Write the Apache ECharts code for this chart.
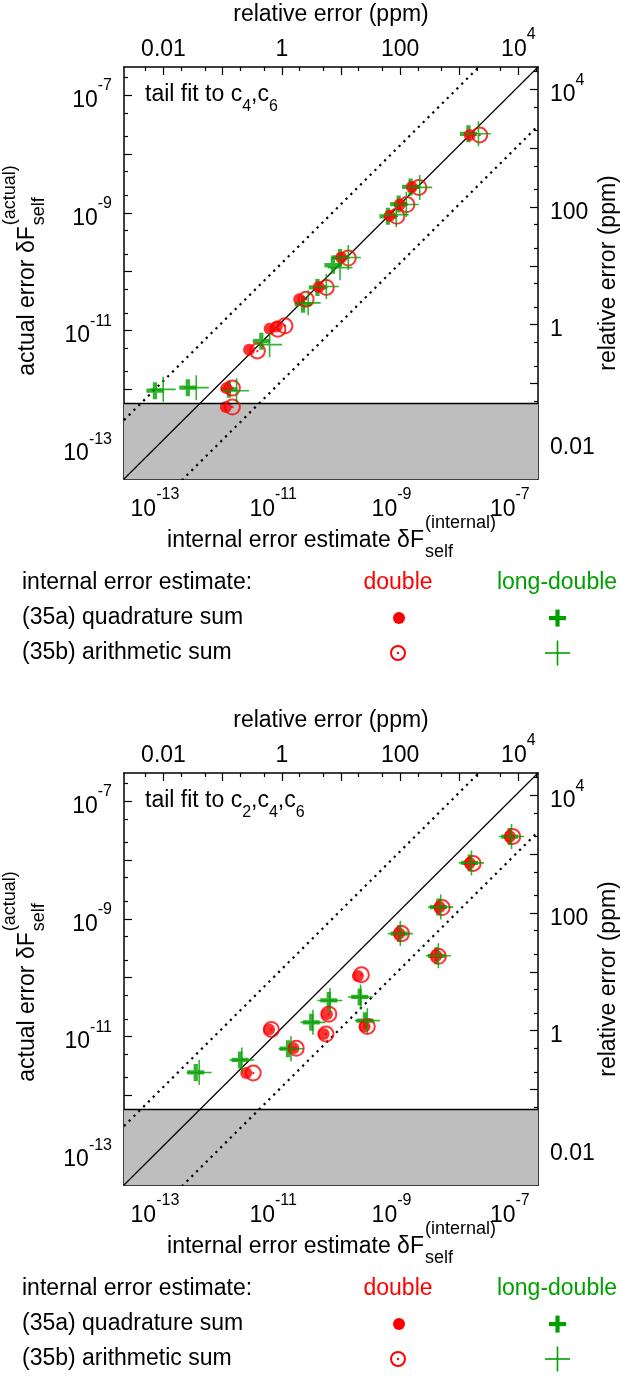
<!DOCTYPE html>
<html>
<head>
<meta charset="utf-8">
<script src="https://cdn.jsdelivr.net/npm/echarts@6/dist/echarts.min.js"></script>
<style>
  html, body { margin: 0; padding: 0; background: #fff; }
  #chart { width: 621px; height: 1376px; }
</style>
</head>
<body>
<div id="chart"></div>
<script>
// [internal error estimate, actual error] pairs
const c46_doubleQuad = [
  [2.1e-8, 2.1e-8], [2.2e-9, 2.75e-9], [1.38e-9, 1.38e-9], [9.3e-10, 8.9e-10],
  [1.41e-10, 1.74e-10], [5.9e-11, 5.5e-11], [2.75e-11, 3.4e-11], [8.7e-12, 1.07e-11],
  [1.15e-11, 1.17e-11], [3.9e-12, 4.7e-12], [1.62e-12, 1.05e-12], [1.58e-12, 5.0e-13]
];
const c46_doubleArith = [
  [3.1e-8, 2.1e-8], [2.9e-9, 2.7e-9], [1.82e-9, 1.38e-9], [1.23e-9, 8.7e-10],
  [1.86e-10, 1.7e-10], [7.9e-11, 5.4e-11], [3.6e-11, 3.4e-11], [1.2e-11, 1.05e-11],
  [1.58e-11, 1.2e-11], [5.4e-12, 4.5e-12], [2.04e-12, 1.05e-12], [2.04e-12, 5.0e-13]
];
const c46_longQuad = [
  [2.0e-8, 2.2e-8], [2.1e-9, 2.75e-9], [1.32e-9, 1.41e-9], [8.7e-10, 8.7e-10],
  [1.35e-10, 1.74e-10], [1.02e-10, 1.29e-10], [5.6e-11, 5.4e-11], [3.2e-11, 2.8e-11],
  [6.3e-12, 6.6e-12], [1.78e-12, 1.0e-12], [1.0e-13, 9.5e-13], [3.6e-13, 1.07e-12]
];
const c46_longArith = [
  [2.95e-8, 2.2e-8], [3.0e-9, 2.7e-9], [1.78e-9, 1.38e-9], [1.2e-9, 9.3e-10],
  [1.86e-10, 1.74e-10], [1.35e-10, 1.17e-10], [7.9e-11, 5.6e-11], [3.9e-11, 2.95e-11],
  [8.7e-12, 5.75e-12], [2.4e-12, 9.5e-13], [1.38e-13, 1.0e-12], [5.0e-13, 1.07e-12]
];

const c246_doubleQuad = [
  [1.0e-7, 2.5e-8], [2.1e-8, 8.9e-9], [6.5e-9, 1.58e-9], [1.35e-9, 5.6e-10],
  [5.75e-9, 2.35e-10], [2.7e-10, 1.07e-10], [8.1e-11, 2.4e-11], [7.1e-11, 1.1e-11],
  [3.5e-10, 1.48e-11], [2.2e-11, 6.3e-12], [8.5e-12, 1.32e-11], [3.5e-12, 2.4e-12]
];
const c246_doubleArith = [
  [1.12e-7, 2.5e-8], [2.4e-8, 8.7e-9], [7.2e-9, 1.55e-9], [1.48e-9, 5.6e-10],
  [6.2e-9, 2.3e-10], [3.1e-10, 1.12e-10], [8.7e-11, 2.4e-11], [7.8e-11, 1.1e-11],
  [3.9e-10, 1.48e-11], [2.45e-11, 6.3e-12], [9.3e-12, 1.32e-11], [4.6e-12, 2.4e-12]
];
const c246_longQuad = [
  [1.0e-7, 2.5e-8], [2.1e-8, 8.9e-9], [6.2e-9, 1.58e-9], [1.35e-9, 5.6e-10],
  [5.75e-9, 2.35e-10], [8.7e-11, 4.1e-11], [2.9e-10, 4.7e-11], [3.55e-10, 1.86e-11],
  [4.4e-11, 1.74e-11], [1.78e-11, 6.2e-12], [2.75e-12, 4.0e-12], [4.9e-13, 2.45e-12]
];
const c246_longArith = [
  [1.07e-7, 2.5e-8], [2.25e-8, 8.9e-9], [6.8e-9, 1.58e-9], [1.41e-9, 5.6e-10],
  [6.2e-9, 2.35e-10], [9.1e-11, 4.1e-11], [3.0e-10, 4.7e-11], [3.9e-10, 1.86e-11],
  [4.7e-11, 1.74e-11], [2.0e-11, 6.2e-12], [2.95e-12, 4.0e-12], [5.6e-13, 2.45e-12]
];

const axisRange = [3e-14, 3e-7];     // same on both axes
const floorError = 5.7e-13;          // top of the grey band
const guideRatios = [1, 10, 0.1];    // actual = ratio * internal
const ppmShiftX = 10.855;            // log10(ppm) - log10(error)
const ppmShiftY = 10.9;
const errorLabels = [-13, -11, -9, -7];
const ppmLabels = [-2, 0, 2, 4];

const RED = '#ff0000', GREEN = '#00a000', GRAY = '#bebebe';
const FONT = 'Liberation Sans';
const PANEL_DY = 706;

const LOG_MIN = Math.log10(axisRange[0]);
const LOG_MAX = Math.log10(axisRange[1]);
const toLog = pts => pts.map(p => [Math.log10(p[0]), Math.log10(p[1])]);

function majors(lo, hi) {
  const out = [];
  for (let n = Math.ceil(lo); n <= hi; n++) out.push(n);
  return out;
}
function minors(lo, hi) {
  const out = [];
  for (let n = Math.floor(lo); n <= hi; n++) {
    [2, 5].forEach(m => { const v = n + Math.log10(m); if (v > lo && v < hi) out.push(v); });
  }
  return out;
}

const tickRich = {
  b: { fontSize: 23, lineHeight: 34, verticalAlign: 'bottom', fontFamily: FONT, color: '#000' },
  s: { fontSize: 16, lineHeight: 15, verticalAlign: 'top', fontFamily: FONT, color: '#000' }
};
const powLabel = v => '{b|10}{s|' + Math.round(v) + '}';
const ppmLabel = v => {
  const n = Math.round(v);
  if (n >= 4) return powLabel(n);
  return '{b|' + (n < 0 ? Math.pow(10, n).toFixed(-n) : String(Math.pow(10, n))) + '}';
};

const frameLine = { show: true, onZero: false, lineStyle: { color: '#000', width: 1.5 } };

function axisPair(gi, position, lo, hi, labelVals, formatter, margin) {
  const major = {
    gridIndex: gi, type: 'value', position: position, min: lo, max: hi,
    axisLine: frameLine,
    axisTick: { show: true, inside: true, length: 8, customValues: majors(lo, hi), lineStyle: { color: '#000', width: 1.2 } },
    axisLabel: { show: true, customValues: labelVals, formatter: formatter, rich: tickRich, margin: margin },
    splitLine: { show: false }
  };
  const minor = {
    gridIndex: gi, type: 'value', position: position, min: lo, max: hi,
    axisLine: { show: false, onZero: false },
    axisTick: { show: true, inside: true, length: 4, customValues: minors(lo, hi), lineStyle: { color: '#000', width: 1.2 } },
    axisLabel: { show: false },
    splitLine: { show: false }
  };
  return [major, minor];
}

const panels = [
  { title: '{a|tail fit to c}{s|4}{a|,c}{s|6}',
    dq: c46_doubleQuad, da: c46_doubleArith, lq: c46_longQuad, la: c46_longArith },
  { title: '{a|tail fit to c}{s|2}{a|,c}{s|4}{a|,c}{s|6}',
    dq: c246_doubleQuad, da: c246_doubleArith, lq: c246_longQuad, la: c246_longArith }
];

const thickPlus = 'path://M7.5,0H12.5V7.5H20V12.5H12.5V20H7.5V12.5H0V7.5H7.5Z';
const thinPlus = 'path://M11.7,0H13.3V11.7H25V13.3H13.3V25H11.7V13.3H0V11.7H11.7Z';

const measure = document.createElement('canvas').getContext('2d');
function textWidth(str, size) {
  measure.font = size + 'px ' + FONT;
  return measure.measureText(str).width;
}

function txt(str, x, y, align, color, size, extra) {
  return Object.assign({
    type: 'text', x: x, y: y, silent: true,
    style: {
      text: str, fontFamily: FONT, fontSize: size || 23, fill: color || '#000',
      align: align, verticalAlign: 'middle', textAlign: align, textVerticalAlign: 'middle'
    }
  }, extra || {});
}

// main text + stacked superscript/subscript (like dF with self / (internal))
function stackedTitle(main, sup, sub, cx, cy, rotation) {
  const wMain = textWidth(main, 23);
  const wTail = Math.max(textWidth(sup, 18), textWidth(sub, 18));
  const x0 = -(wMain + wTail) / 2;
  return {
    type: 'group', x: cx, y: cy, rotation: rotation || 0, silent: true,
    children: [
      txt(main, x0, 0, 'left', '#000', 23),
      txt(sup, x0 + wMain + 1, -18, 'left', '#000', 18),
      txt(sub, x0 + wMain + 1, 11, 'left', '#000', 18)
    ]
  };
}

const grids = [], xAxes = [], yAxes = [], series = [], graphics = [];

panels.forEach((p, i) => {
  const dy = i * PANEL_DY;
  const gTop = 67 + dy;
  grids.push({ left: 124, top: gTop, width: 414, height: 412, outerBoundsMode: 'none', containLabel: false });

  xAxes.push(...axisPair(i, 'bottom', LOG_MIN, LOG_MAX, errorLabels, powLabel, 8));
  xAxes.push(...axisPair(i, 'top', LOG_MIN + ppmShiftX, LOG_MAX + ppmShiftX, ppmLabels, ppmLabel, 6));
  yAxes.push(...axisPair(i, 'left', LOG_MIN, LOG_MAX, errorLabels, powLabel, 12));
  yAxes.push(...axisPair(i, 'right', LOG_MIN + ppmShiftY, LOG_MAX + ppmShiftY, ppmLabels, ppmLabel, 12));

  const ax = { xAxisIndex: i * 4, yAxisIndex: i * 4 };
  const floorLog = Math.log10(floorError);

  series.push(Object.assign({
    type: 'line', data: [], silent: true, z: 1,
    markArea: { silent: true, itemStyle: { color: GRAY }, data: [[{ yAxis: LOG_MIN }, { yAxis: floorLog }]] },
    markLine: { silent: true, symbol: 'none', label: { show: false },
      lineStyle: { color: '#000', width: 1.3, type: 'solid' }, data: [{ yAxis: floorLog }] }
  }, ax));

  guideRatios.forEach(r => {
    const k = Math.log10(r);
    series.push(Object.assign({
      type: 'line', silent: true, z: 2, clip: true, showSymbol: false,
      data: [[LOG_MIN, LOG_MIN + k], [LOG_MAX, LOG_MAX + k]],
      lineStyle: r === 1 ? { color: '#000', width: 1.2, type: 'solid' }
                         : { color: '#000', width: 2.2, type: [2.2, 4.6] }
    }, ax));
  });

  series.push(Object.assign({ type: 'scatter', z: 3, silent: true, data: toLog(p.lq),
    symbol: thickPlus, symbolSize: 17, itemStyle: { color: GREEN } }, ax));
  series.push(Object.assign({ type: 'scatter', z: 4, silent: true, data: toLog(p.dq),
    symbol: 'circle', symbolSize: 12, itemStyle: { color: RED } }, ax));
  series.push(Object.assign({ type: 'scatter', z: 5, silent: true, data: toLog(p.da),
    symbol: 'circle', symbolSize: 15, itemStyle: { color: 'rgba(0,0,0,0)', borderColor: RED, borderWidth: 2 } }, ax));
  series.push(Object.assign({ type: 'scatter', z: 5, silent: true, data: toLog(p.da),
    symbol: 'circle', symbolSize: 2.5, itemStyle: { color: RED } }, ax));
  series.push(Object.assign({ type: 'scatter', z: 6, silent: true, data: toLog(p.la),
    symbol: thinPlus, symbolSize: 25, itemStyle: { color: GREEN } }, ax));

  // titles
  graphics.push(txt('relative error (ppm)', 331, 15 + dy, 'center'));
  graphics.push({
    type: 'text', x: 145, y: 99 + dy, silent: true,
    style: {
      text: p.title, align: 'left', verticalAlign: 'middle', textAlign: 'left', textVerticalAlign: 'middle',
      rich: {
        a: { fontSize: 23, fontFamily: FONT, lineHeight: 32, verticalAlign: 'top', color: '#000' },
        s: { fontSize: 16, fontFamily: FONT, lineHeight: 14, verticalAlign: 'bottom', color: '#000' }
      }
    }
  });
  graphics.push(stackedTitle('internal error estimate \u03b4F', '(internal)', 'self', 331, 541 + dy, 0));
  graphics.push(stackedTitle('actual error \u03b4F', '(actual)', 'self', 28, gTop + 204, Math.PI / 2));
  graphics.push(txt('relative error (ppm)', 0, 0, 'center', '#000', 23,
    { x: 609, y: gTop + 206, rotation: Math.PI / 2 }));

  // legend block
  graphics.push(txt('internal error estimate:', 22, 583 + dy, 'left'));
  graphics.push(txt('double', 398, 583 + dy, 'center', RED));
  graphics.push(txt('long-double', 557, 583 + dy, 'center', GREEN));
  graphics.push(txt('(35a) quadrature sum', 22, 618 + dy, 'left'));
  graphics.push(txt('(35b) arithmetic sum', 22, 653 + dy, 'left'));
  graphics.push({ type: 'circle', silent: true, shape: { cx: 399, cy: 618 + dy, r: 6 }, style: { fill: RED } });
  graphics.push({ type: 'rect', silent: true, shape: { x: 549, y: 616 + dy, width: 17, height: 4.2 }, style: { fill: GREEN } });
  graphics.push({ type: 'rect', silent: true, shape: { x: 555.4, y: 609.6 + dy, width: 4.2, height: 17 }, style: { fill: GREEN } });
  graphics.push({ type: 'circle', silent: true, shape: { cx: 398, cy: 653 + dy, r: 7 }, style: { fill: 'none', stroke: RED, lineWidth: 2 } });
  graphics.push({ type: 'circle', silent: true, shape: { cx: 398, cy: 653 + dy, r: 1.2 }, style: { fill: RED } });
  graphics.push({ type: 'rect', silent: true, shape: { x: 545, y: 652.2 + dy, width: 25, height: 1.6 }, style: { fill: GREEN } });
  graphics.push({ type: 'rect', silent: true, shape: { x: 556.7, y: 640.5 + dy, width: 1.6, height: 25 }, style: { fill: GREEN } });
});

const chart = echarts.init(document.getElementById('chart'));
chart.setOption({
  animation: false,
  backgroundColor: '#fff',
  textStyle: { fontFamily: FONT, color: '#000' },
  grid: grids,
  xAxis: xAxes,
  yAxis: yAxes,
  series: series,
  graphic: graphics
});
</script>
</body>
</html>
